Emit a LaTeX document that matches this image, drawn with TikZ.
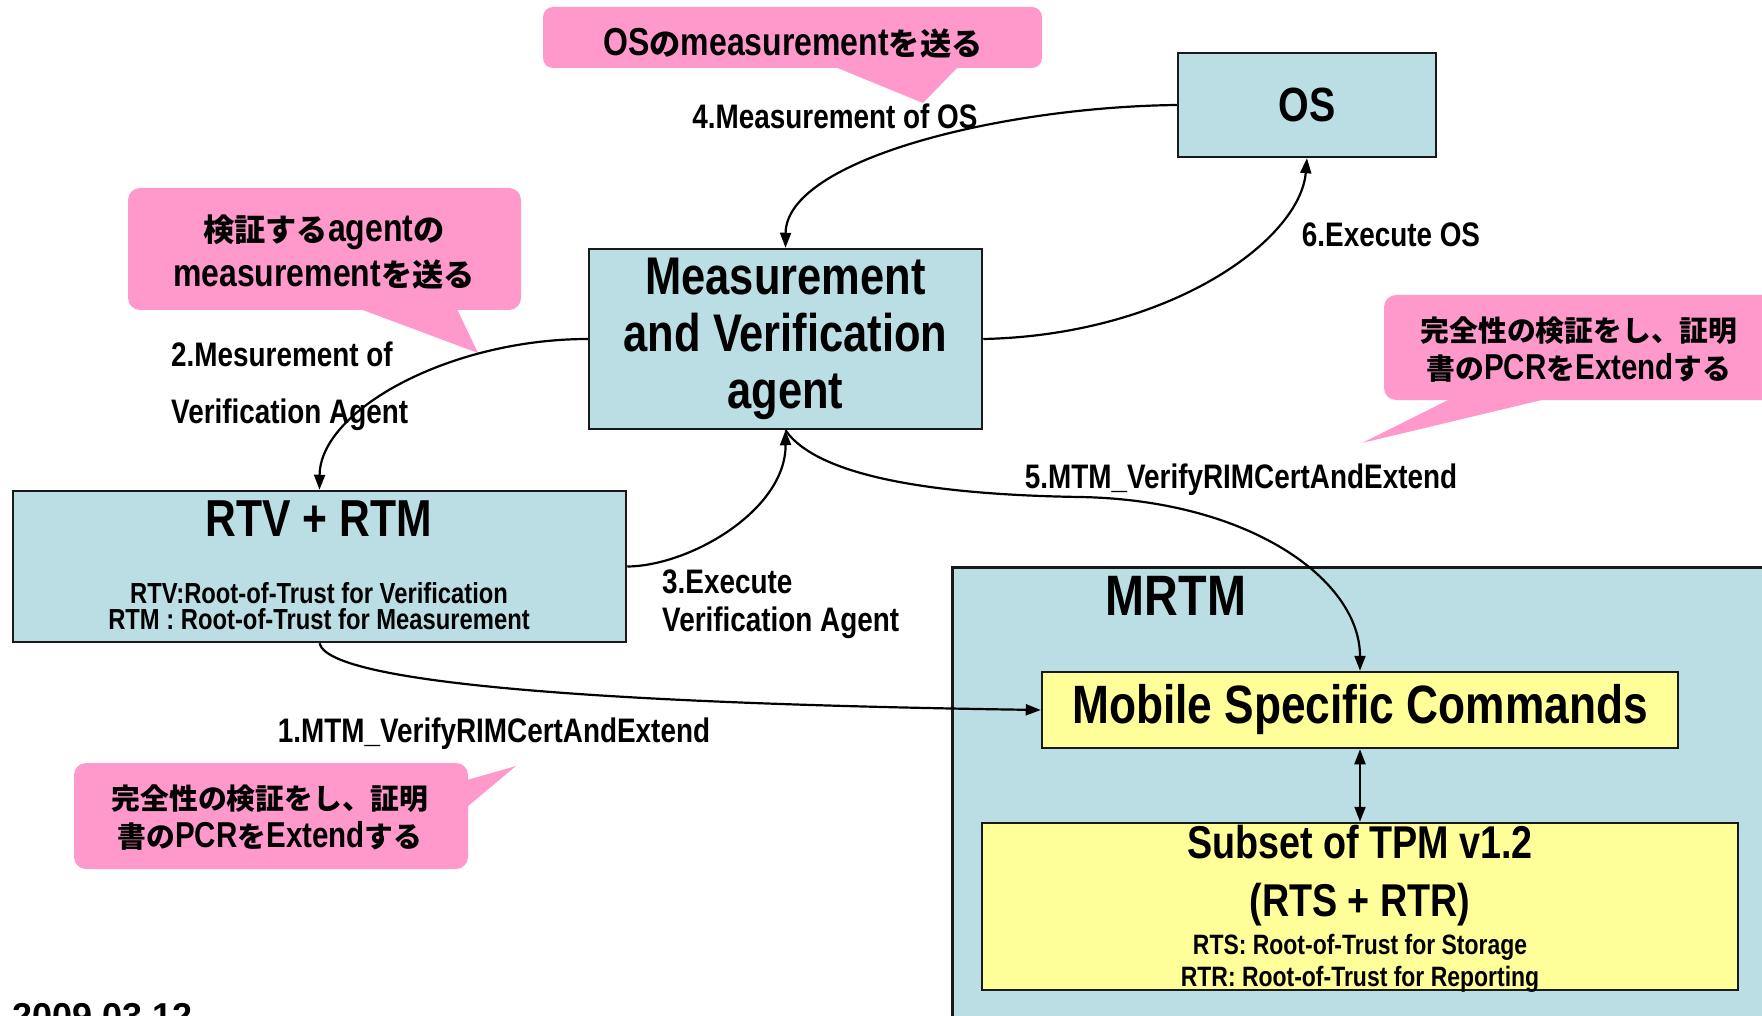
\documentclass[tikz,border=0pt]{standalone}
\usepackage{fontspec}
\setmainfont{Liberation Sans}[FakeStretch=0.82]
\newfontfamily\jpfont{Noto Sans CJK JP Bold}[Scale=0.8]
\newfontfamily\datefont{Liberation Sans}
\usetikzlibrary{arrows.meta}
\definecolor{boxblue}{RGB}{187,222,228}
\definecolor{memoyellow}{RGB}{255,255,153}
\definecolor{notepink}{RGB}{255,153,204}
\definecolor{edge}{RGB}{25,25,25}
\newcommand\jt[1]{{\jpfont #1}}
\newcommand\fsz[2]{\fontsize{#1}{#2}\selectfont\bfseries}
\tikzset{
  box/.style={draw=edge, line width=2.5pt, fill=boxblue, inner sep=0pt},
  ybox/.style={draw=edge, line width=2.5pt, fill=memoyellow, inner sep=0pt},
  conn/.style={line width=2.2pt, -{Triangle[length=15pt,width=11pt]}},
  lbl/.style={inner sep=0pt, font=\fsz{34}{40}},
  txt/.style={inner sep=0pt, align=center},
  notefill/.style={fill=notepink},
}
\begin{document}
\begin{tikzpicture}[x=1pt,y=-1pt]
\useasboundingbox (0,0) rectangle (1762,1016);

% speech-bubble notes
\fill[notefill, rounded corners=10pt] (543,7) rectangle (1042,68);
\fill[notefill] (835,67) -- (923,103) -- (958,67) -- cycle;
\node[txt, font=\fsz{39}{45}] (noteos) at (793,43) {OS\jt{の}measurement\jt{を送る}};

\fill[notefill, rounded corners=12pt] (128,188) rectangle (521,310);
\fill[notefill] (360,309) -- (478,353) -- (457,309) -- cycle;
\node[txt, font=\fsz{39}{45}] (noteagent) at (324,252) {\jt{検証する}agent\jt{の}\\measurement\jt{を送る}};

\fill[notefill, rounded corners=12pt] (1384,295) rectangle (1800,400);
\fill[notefill] (1450,399) -- (1362,443) -- (1546,399) -- cycle;
\node[txt, font=\fsz{36}{38}] (noteright) at (1579,350) {\jt{完全性の検証をし、証明}\\\jt{書の}PCR\jt{を}Extend\jt{する}};

\fill[notefill, rounded corners=12pt] (74,763) rectangle (468,869);
\fill[notefill] (467,780) -- (516,766) -- (467,807) -- cycle;
\node[txt, font=\fsz{36}{38}] (noteleft) at (270,818) {\jt{完全性の検証をし、証明}\\\jt{書の}PCR\jt{を}Extend\jt{する}};

% components
\node[box, minimum width=258pt, minimum height=104pt, font=\fsz{48}{48}] (os) at (1307,105) {OS};
\node[box, minimum width=393pt, minimum height=180pt, align=center, font=\fsz{53}{57}] (mva) at (785.5,339) {Measurement\\and Verification\\agent};
\node[box, minimum width=613pt, minimum height=151pt] (rtv) at (319.5,566.5) {};
\node[txt, font=\fsz{52}{52}] (rtvtitle) at (319,519) {RTV + RTM};
\node[txt, font=\fsz{29}{26}] (rtvnote) at (319,606) {RTV:Root-of-Trust for Verification\\RTM : Root-of-Trust for Measurement};

\node[box, anchor=north west, minimum width=840pt, minimum height=480pt] (mrtm) at (951,566) {};
\node[txt, font=\fsz{57}{57}] (mrtmlabel) at (1176,596) {MRTM};
\node[ybox, minimum width=636pt, minimum height=76pt, font=\fsz{54}{54}] (msc) at (1360,710) {Mobile Specific Commands};
\node[ybox, minimum width=756pt, minimum height=167pt] (tpm) at (1360,906.5) {};
\node[txt, font=\fsz{46}{58}] (tpmtitle) at (1360,876) {Subset of TPM v1.2\\(RTS + RTR)};
\node[txt, font=\fsz{28}{32}] (tpmnote) at (1360,963) {RTS: Root-of-Trust for Storage\\RTR: Root-of-Trust for Reporting};

% connectors
\draw[conn] (os.west) .. controls (1000,107) and (786,160) .. (mva.north);
\draw[conn] (mva.east) .. controls (1170,335) and (1300,240) .. (os.south);
\draw[conn] (mva.west) .. controls (450,339) and (320,410) .. (rtv.north);
\draw[conn] (rtv.east) .. controls (690,566) and (786,510) .. (mva.south);
\coordinate (bend5) at (1080,497);
\draw[conn] (mva.south) .. controls (820,480) and (950,495) .. (bend5)
  .. controls (1250,500) and (1360,580) .. (msc.north);
\draw[conn] (rtv.south) .. controls (330,690) and (700,705) .. (msc.west);
\draw[line width=2.2pt, {Triangle[length=15pt,width=11pt]}-{Triangle[length=15pt,width=11pt]}] (msc.south) -- (tpm.north);

% step labels
\node[lbl] (l4) at (835,116) {4.Measurement of OS};
\node[lbl] (l6) at (1391,235) {6.Execute OS};
\node[lbl, align=left, anchor=west, font=\fsz{34}{57}] (l2) at (171,386) {2.Mesurement of\\Verification Agent};
\node[lbl, align=left, anchor=west, font=\fsz{34}{38}] (l3) at (662,604) {3.Execute\\Verification Agent};
\node[lbl] (l1) at (494,734) {1.MTM\_VerifyRIMCertAndExtend};
\node[lbl] (l5) at (1241,480) {5.MTM\_VerifyRIMCertAndExtend};

% date
\node[anchor=north west, inner sep=0pt, font={\datefont\fontsize{36}{36}\selectfont\bfseries}] (date) at (12,1003) {2009.03.12};
\end{tikzpicture}
\end{document}
